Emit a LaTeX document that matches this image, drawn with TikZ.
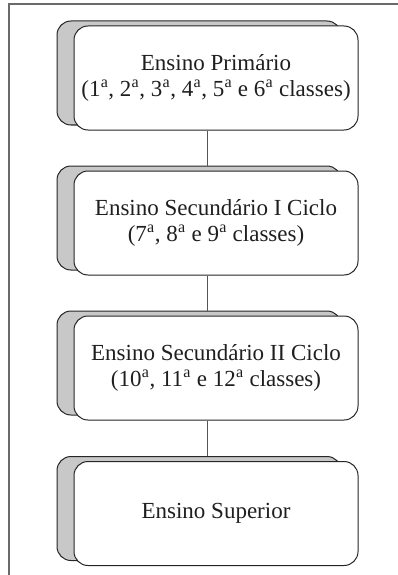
\documentclass[tikz,border=0pt]{standalone}
\usepackage{fontspec}
\setmainfont{Liberation Serif}
\usetikzlibrary{calc}
\definecolor{framec}{HTML}{6A6A6A}
\definecolor{boxline}{HTML}{262626}
\definecolor{shadowc}{HTML}{C8C8C8}
\definecolor{linkc}{HTML}{555555}
\newcommand{\ord}[1]{#1\kern0.3pt\textsuperscript{a}}
\tikzset{
  levelbox/.style={draw=boxline, line width=1pt, rounded corners=14pt,
    fill=white, minimum width=284pt, minimum height=104pt, inner sep=0pt,
    align=center, text=black!88, font=\fontsize{23}{25.5}\selectfont},
  shadowbox/.style={levelbox, fill=shadowc},
  link/.style={draw=linkc, line width=1pt}
}
\begin{document}
\begin{tikzpicture}[x=1pt,y=-1pt]
\useasboundingbox (0,0) rectangle (398,575);
\draw[framec, line width=1.4pt] (9,576) -- (9,4) -- (399,4);
% shadows and boxes
\node[shadowbox] (s1) at (199,73) {};
\node[levelbox] (f1) at (216,78) {Ensino Primário\\(\ord{1}, \ord{2}, \ord{3}, \ord{4}, \ord{5} e \ord{6} classes)};
\node[shadowbox] (s2) at (199,218) {};
\node[levelbox] (f2) at (216,223) {Ensino Secundário I Ciclo\\(\ord{7}, \ord{8} e \ord{9} classes)};
\node[shadowbox] (s3) at (199,363) {};
\node[levelbox] (f3) at (216,368) {Ensino Secundário II Ciclo\\(\ord{10}, \ord{11} e \ord{12} classes)};
\node[shadowbox] (s4) at (199,508.5) {};
\node[levelbox] (f4) at (216,513.5) {Ensino Superior};
% connectors
\draw[link] ([xshift=-8.5pt]f1.south) -- ([xshift=8.5pt]s2.north);
\draw[link] ([xshift=-8.5pt]f2.south) -- ([xshift=8.5pt]s3.north);
\draw[link] ([xshift=-8.5pt]f3.south) -- ([xshift=8.5pt]s4.north);
\end{tikzpicture}
\end{document}
